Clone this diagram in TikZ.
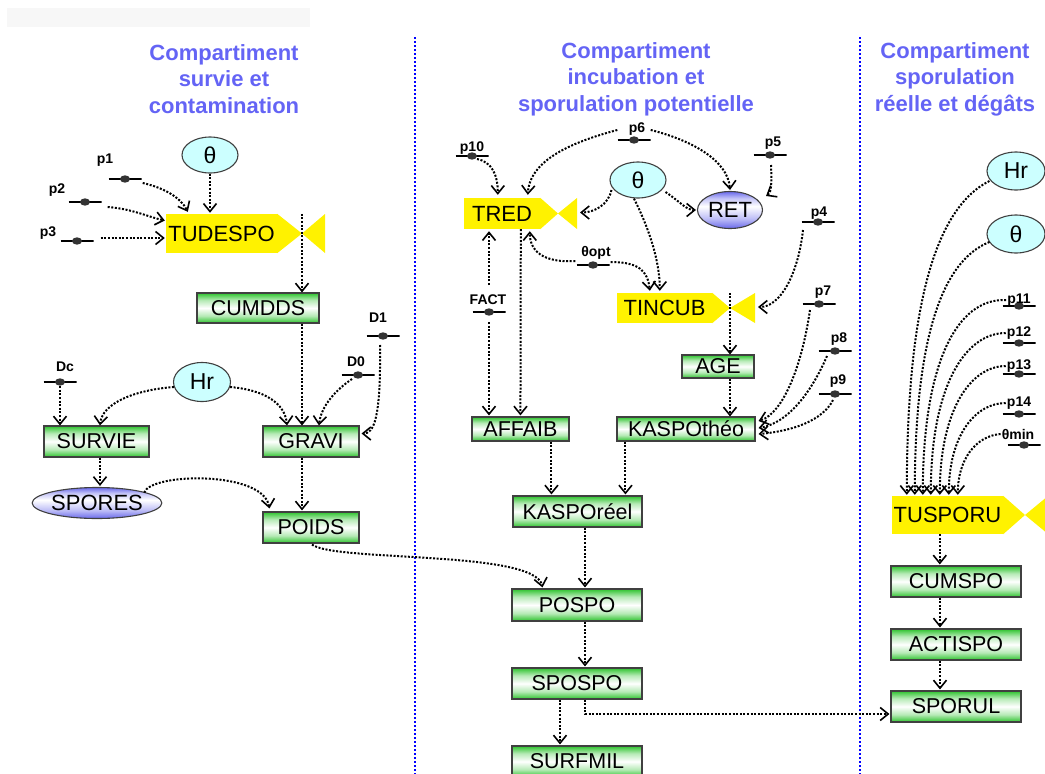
\documentclass[tikz,border=0pt]{standalone}
\usepackage{fontspec}
\setmainfont{Liberation Sans}
\usetikzlibrary{arrows.meta,calc,shapes.geometric}
\definecolor{boxgreen}{RGB}{45,195,45}
\definecolor{spblue}{RGB}{105,105,235}
\definecolor{titleblue}{RGB}{100,100,245}
\definecolor{cyanfill}{RGB}{204,255,255}
\definecolor{divblue}{RGB}{0,0,255}
\pgfdeclareverticalshading{gboxshade}{100bp}{color(0bp)=(boxgreen); color(25bp)=(boxgreen); color(37bp)=(boxgreen!35!white); color(50bp)=(white); color(63bp)=(boxgreen!35!white); color(75bp)=(boxgreen); color(100bp)=(boxgreen)}
\pgfdeclareverticalshading{bellshade}{100bp}{color(0bp)=(spblue); color(25bp)=(spblue); color(38bp)=(spblue!45!white); color(55bp)=(white); color(66bp)=(spblue!40!white); color(75bp)=(spblue); color(100bp)=(spblue)}
\begin{document}
\begin{tikzpicture}[x=1pt,y=-1pt,
  every node/.style={inner sep=0pt},
  gbox/.style={rectangle, draw=black!75, line width=1.1pt, shade, shading=gboxshade, font=\fontsize{21.5}{21.5}\selectfont},
  ybox/.style={rectangle, fill=yellow, font=\fontsize{22}{22}\selectfont},
  cyell/.style={ellipse, draw=black!75, line width=1.1pt, fill=cyanfill, font=\fontsize{23}{23}\selectfont},
  bell/.style={ellipse, draw=black!75, line width=1.1pt, shade, shading=bellshade, font=\fontsize{22}{22}\selectfont},
  param/.style={rectangle, minimum width=33pt, minimum height=8pt,
     path picture={\draw[line width=1.2pt] (path picture bounding box.west) -- (path picture bounding box.east);
       \fill[black!80] (path picture bounding box.center) ellipse [x radius=5pt, y radius=3.7pt];}},
  plabel/.style={font=\fontsize{14}{14}\selectfont\bfseries},
  title/.style={align=center, text=titleblue, font=\fontsize{22}{26.5}\selectfont\bfseries},
  arr/.style={draw=black, line width=2pt, dash pattern=on 2pt off 1.6pt,
     -{Straight Barb[length=8pt,width=13pt,line width=1.6pt]}},
  divider/.style={draw=divblue, line width=2pt, dash pattern=on 2pt off 2pt}
]
\useasboundingbox (0,0) rectangle (1045,774);
\fill[black!3] (7,8) rectangle (310,27);

% dividers and titles
\draw[divider] (415,37) -- (415,774);
\draw[divider] (860,37) -- (860,774);
\node[title] (t1) at (224,79) {Compartiment\\survie et\\contamination};
\node[title] (t2) at (636,79) {Compartiment\\incubation et\\sporulation potentielle};
\node[title] (t3) at (955,79) {Compartiment\\sporulation\\réelle et dégâts};

% ---------- column 1 ----------
\node[cyell, minimum width=56pt, minimum height=36pt] (th1) at (210,155) {θ};
\node[ybox, minimum width=111pt, minimum height=39pt] (tudespo) at (221.5,233.5) {TUDESPO};
\coordinate (tudtip) at (302,233.5);
\fill[yellow] (tudespo.north east) -- (tudtip) -- (tudespo.south east) -- cycle;
\fill[yellow] (tudtip) -- (325,214) -- (325,253) -- cycle;
\node[gbox, minimum width=122pt, minimum height=30pt] (cumdds) at (258,308) {CUMDDS};
\node[cyell, minimum width=57pt, minimum height=39pt] (hr1) at (202,382) {Hr};
\node[gbox, minimum width=105pt, minimum height=31pt] (survie) at (96.5,441.5) {SURVIE};
\node[gbox, minimum width=96pt, minimum height=31pt] (gravi) at (311,441.5) {GRAVI};
\node[bell, minimum width=120pt, minimum height=31pt] (spores) at (97,503) {SPORES};
\node[gbox, minimum width=96pt, minimum height=31pt] (poids) at (311,527.5) {POIDS};

\node[param] (p1) at (125,179) {};   \node[plabel] (p1l) at (105,160) {p1};
\node[param] (p2) at (85,202) {};    \node[plabel] (p2l) at (57,190) {p2};
\node[param] (p3) at (77,241) {};    \node[plabel] (p3l) at (48,233) {p3};
\node[param] (dc) at (60,382) {};    \node[plabel] (dcl) at (65,367) {Dc};
\node[param] (d0) at (358,375) {};   \node[plabel] (d0l) at (356,362) {D0};
\node[param] (d1) at (383,336) {};   \node[plabel] (d1l) at (378,318) {D1};

\draw[arr] ($(p1.east)+(1,4)$) .. controls +(22,5) and +(-7,-14) .. ($(tudespo.north west)+(22,-2)$);
\draw[arr] ($(p2.east)+(6,5)$) .. controls +(25,2) and +(-18,-4) .. ($(tudespo.west)+(-1,-13)$);
\draw[arr] ($(p3.east)+(7,-3)$) -- ($(tudespo.west)+(-1,4.5)$);
\draw[arr] (th1.south) -- ($(th1.south |- tudespo.north)+(0,-1)$);
\draw[arr] (tudtip |- tudespo.north) -- (tudtip |- cumdds.north);
\draw[arr] (cumdds.south -| tudtip) -- (gravi.north -| tudtip);
\draw[arr] (dc.south) -- (dc.south |- survie.north);
\draw[arr] ($(hr1.west)+(1,5)$) .. controls +(-40,3) and +(2,-22) .. ($(survie.north)+(3.5,0)$);
\draw[arr] ($(hr1.east)+(-1,5)$) .. controls +(35,3) and +(-2,-22) .. ($(gravi.north)+(-24,0)$);
\draw[arr] ($(d0)+(-6,4)$) .. controls +(-15,10) and +(2,-20) .. ($(gravi.north)+(8,0)$);
\draw[arr] ($(d1)+(-3,9)$) .. controls +(1,75) and +(12,0) .. ($(gravi.east)+(2,-8)$);
\draw[arr] ($(survie.south)+(3.5,0)$) -- ($(survie.south |- spores.north)+(3.5,-1)$);
\draw[arr] ($(spores.north east)+(1,1)$) .. controls +(6,-20) and +(-6,-38) .. ($(poids.north west)+(7,-3)$);
\draw[arr] ($(gravi.south)+(-9,0)$) -- ($(poids.north)+(-9,-1)$);

% ---------- column 2 ----------
\node[cyell, minimum width=56pt, minimum height=36pt] (th2) at (638,180) {θ};
\node[bell, minimum width=65pt, minimum height=37pt] (ret) at (730,210) {RET};
\node[ybox, minimum width=76pt, minimum height=31pt] (tred) at (502,213.5) {TRED};
\coordinate (tredtip) at (558,213.5);
\fill[yellow] (tred.north east) -- (tredtip) -- (tred.south east) -- cycle;
\fill[yellow] (tredtip) -- (577,198) -- (577,229) -- cycle;
\node[ybox, minimum width=95pt, minimum height=30pt] (tincub) at (664.5,308) {TINCUB};
\coordinate (tinctip) at (730,308);
\fill[yellow] (tincub.north east) -- (tinctip) -- (tincub.south east) -- cycle;
\fill[yellow] (tinctip) -- (755,293) -- (755,323) -- cycle;
\node[gbox, minimum width=72pt, minimum height=23pt] (age) at (718,366.5) {AGE};
\node[gbox, minimum width=97pt, minimum height=24pt] (affaib) at (520.5,429) {AFFAIB};
\node[gbox, minimum width=138pt, minimum height=24pt] (kaspotheo) at (686,429) {KASPOthéo};
\node[gbox, minimum width=129pt, minimum height=31pt] (kasporeel) at (577.5,511.5) {KASPOréel};
\node[gbox, minimum width=130pt, minimum height=32pt] (pospo) at (577,605) {POSPO};
\node[gbox, minimum width=130pt, minimum height=31pt] (spospo) at (577,683.5) {SPOSPO};
\node[gbox, minimum width=130pt, minimum height=31pt] (surfmil) at (577,761.5) {SURFMIL};

\node[param] (p10) at (472,156) {};   \node[plabel] (p10l) at (472,148) {p10};
\node[param] (p6) at (634,140) {};    \node[plabel] (p6l) at (637,129) {p6};
\node[param] (p5) at (770,155) {};    \node[plabel] (p5l) at (773,143) {p5};
\node[param] (thopt) at (593,265) {}; \node[plabel] (thoptl) at (596,253) {θopt};
\node[param] (fact) at (489,312) {};  \node[plabel] (factl) at (488,300) {FACT};
\node[param] (p4) at (818,222) {};    \node[plabel] (p4l) at (819,213) {p4};
\node[param] (p7) at (819,304) {};    \node[plabel] (p7l) at (823,292) {p7};
\node[param] (p8) at (835,351) {};    \node[plabel] (p8l) at (839,339) {p8};
\node[param] (p9) at (835,394) {};    \node[plabel] (p9l) at (838,381) {p9};

\draw[arr] ($(poids.south)+(1,1)$) .. controls (335,562) and (535,550) .. ($(pospo.north west)+(31,-1)$);
\draw[arr] ($(p10)+(5,3)$) .. controls +(15,3) and +(0,-20) .. ($(tred.north west)+(34,-3)$);
\draw[arr] ($(p6.west)+(0,-10)$) .. controls +(-45,12) and +(2,-35) .. ($(tred.north west)+(64,-3)$);
\draw[arr] ($(p6.east)+(0,-10)$) .. controls +(40,10) and +(-2,-30) .. ($(ret.north)+(0,-1)$);
\draw[arr] ($(p5)+(1,10)$) .. controls +(1,20) and +(5,-3) .. ($(ret.east)+(3,-14)$);
\draw[arr] ($(th2.west)+(2,10)$) .. controls +(-3,15) and +(14,0) .. ($(tredtip)+(22,-1)$);
\draw[arr] ($(th2.east)+(-1,12)$) .. controls +(15,10) and +(-10,0) .. ($(ret.west)+(-1,0)$);
\draw[arr] ($(th2.south)+(-4,0)$) .. controls +(15,30) and +(0,-30) .. ($(tincub.north west)+(43,-2)$);
\draw[arr] ($(thopt.east)+(1,-3)$) .. controls +(28,0) and +(-2,-20) .. ($(tincub.north west)+(33,-2)$);
\draw[arr] ($(thopt.west)+(-1,-4)$) .. controls +(-32,2) and +(0,20) .. ($(tred.south west)+(66,2)$);
\draw[arr] ($(fact)+(0,-27)$) -- ($(fact |- tred.south)+(0,2)$);
\draw[arr] ($(fact)+(0,10)$) -- ($(fact |- affaib.north)+(0,-1)$);
\draw[arr] ($(tred.south west)+(57,0)$) -- ($(affaib.north west)+(49,-1)$);
\draw[arr] (tinctip |- tincub.north) -- (tinctip |- age.north);
\draw[arr] ($(p4)+(-15,8)$) .. controls +(-5,45) and +(22,0) .. ($(tinctip)+(28,-1)$);
\draw[arr] (age.south -| tinctip) -- (kaspotheo.north -| tinctip);
\draw[arr] ($(p7)+(-9,6)$) .. controls +(-8,55) and +(25,-8) .. ($(kaspotheo.east)+(3,-8)$);
\draw[arr] ($(p8)+(-8,5)$) .. controls +(-15,35) and +(30,-5) .. ($(kaspotheo.east)+(3,-1)$);
\draw[arr] ($(p9)+(-2,6)$) .. controls +(-10,20) and +(35,-3) .. ($(kaspotheo.east)+(3,5)$);
\draw[arr] ($(affaib.south west)+(80,0)$) -- ($(affaib.south west |- kasporeel.north)+(80,-1)$);
\draw[arr] ($(kaspotheo.south west)+(9,0)$) -- ($(kaspotheo.south west |- kasporeel.north)+(9,-1)$);
\draw[arr] ($(kasporeel.south)+(7.5,0)$) -- ($(kasporeel.south |- pospo.north)+(7.5,-1)$);
\draw[arr] ($(pospo.south)+(8,0)$) -- ($(pospo.south |- spospo.north)+(8,-1)$);
\draw[arr] ($(spospo.south)+(-17,0)$) -- ($(spospo.south |- surfmil.north)+(-17,-1)$);

% ---------- column 3 ----------
\node[cyell, minimum width=58pt, minimum height=38pt] (hr3) at (1016,171) {Hr};
\node[cyell, minimum width=58pt, minimum height=38pt] (th3) at (1016,234) {θ};
\node[ybox, minimum width=111pt, minimum height=38pt] (tusporu) at (947.5,515) {TUSPORU};
\coordinate (tustip) at (1025,515);
\fill[yellow] (tusporu.north east) -- (tustip) -- (tusporu.south east) -- cycle;
\fill[yellow] (tustip) -- (1048,496) -- (1048,534) -- cycle;
\node[gbox, minimum width=130pt, minimum height=31pt] (cumspo) at (956,581.5) {CUMSPO};
\node[gbox, minimum width=130pt, minimum height=31pt] (actispo) at (956,644.5) {ACTISPO};
\node[gbox, minimum width=130pt, minimum height=31pt] (sporul) at (956,706.5) {SPORUL};

\node[param] (p11) at (1019,306) {};   \node[plabel] (p11l) at (1019,300) {p11};
\node[param] (p12) at (1019,343) {};   \node[plabel] (p12l) at (1019,333) {p12};
\node[param] (p13) at (1019,374) {};   \node[plabel] (p13l) at (1019,366) {p13};
\node[param] (p14) at (1019,414) {};   \node[plabel] (p14l) at (1019,403) {p14};
\node[param] (thmin) at (1024,445) {}; \node[plabel] (thminl) at (1018,434) {θmin};

\draw[arr] ($(spospo.south)+(8,0)$) |- ($(sporul.west)+(-1,7.5)$);
\draw[arr] ($(hr3.west)+(3,10)$) .. controls +(-60,30) and +(0,-170) .. ($(tusporu.north west)+(15,-1)$);
\draw[arr] ($(th3.west)+(3,8)$) .. controls +(-50,20) and +(0,-150) .. ($(tusporu.north west)+(23,-1)$);
\draw[arr] ($(p11l.west)+(-1,0)$) .. controls +(-50,-2) and +(0,-130) .. ($(tusporu.north west)+(31,-1)$);
\draw[arr] ($(p12l.west)+(-1,0)$) .. controls +(-40,0) and +(0,-110) .. ($(tusporu.north west)+(39,-1)$);
\draw[arr] ($(p13l.west)+(-1,0)$) .. controls +(-35,0) and +(0,-85) .. ($(tusporu.north west)+(48,-1)$);
\draw[arr] ($(p14l.west)+(-1,0)$) .. controls +(-30,0) and +(0,-60) .. ($(tusporu.north west)+(57,-1)$);
\draw[arr] ($(thminl.west)+(-1,0)$) .. controls +(-25,2) and +(0,-35) .. ($(tusporu.north west)+(66,-1)$);
\draw[arr] ($(tusporu.south west)+(48,0)$) -- ($(tusporu.south west |- cumspo.north)+(48,-1)$);
\draw[arr] ($(cumspo.south)+(-16,0)$) -- ($(cumspo.south |- actispo.north)+(-16,-1)$);
\draw[arr] ($(actispo.south)+(-16,0)$) -- ($(actispo.south |- sporul.north)+(-16,-1)$);
\end{tikzpicture}
\end{document}
